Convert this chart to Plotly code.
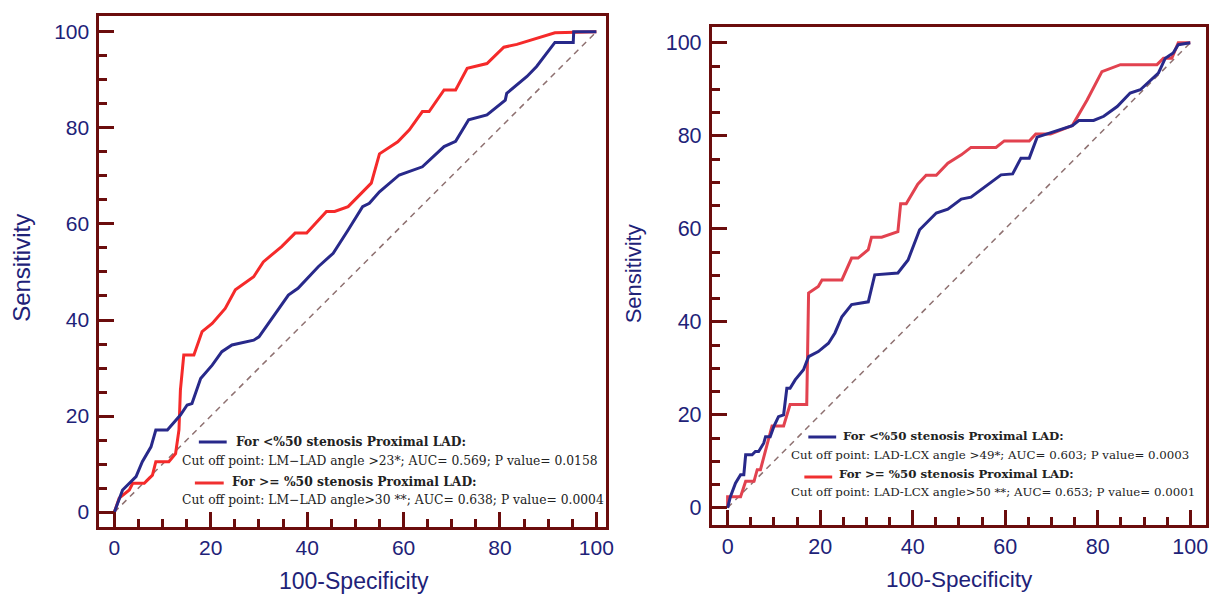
import plotly.graph_objects as go

W, H = 1218, 594

# ---------------- data ----------------
# Left panel: LM-LAD angle
left_lt50_x = [0, 1.7, 4.5, 5.8, 7.6, 8.6, 11, 13.7, 15.1, 16.1, 17.9, 20.3, 22.3, 24.4, 28.9, 30,
               36.1, 38.1, 42.3, 45.4, 48.5, 51.5, 52.9, 55, 59.1, 63.9, 68.4, 70.8, 73.5, 77.3,
               81.1, 81.4, 85.6, 87.6, 91.4, 95.2, 95.3, 100]
left_lt50_y = [0, 4.6, 7.4, 10.5, 13.6, 17.1, 17.1, 20.2, 22.3, 22.6, 27.8, 30.6, 33.4, 34.8, 35.8, 36.5,
               45.2, 46.6, 51.1, 53.9, 58.75, 63.6, 64.3, 66.7, 70.2, 71.9, 76.1, 77.2, 81.7, 82.7,
               85.8, 87.2, 90.7, 92.8, 97.8, 97.8, 100, 100]

left_ge50_x = [0, 1, 3.1, 3.8, 6.2, 7.9, 8.6, 11.3, 12.7, 13.4, 13.7, 14.4, 16.5, 18.2, 20.3, 23, 25.1,
               28.9, 30.9, 34.7, 37.5, 39.9, 44, 45.7, 48.5, 50.9, 53.3, 55, 58.8, 61.2, 63.9, 65.3,
               68.4, 70.8, 73.2, 77.3, 80.8, 83.5, 91.4, 100]
left_ge50_y = [0, 2.9, 4.6, 6, 6, 7.7, 10.5, 10.5, 12.2, 17.1, 25.4, 32.7, 32.7, 37.6, 39.3, 42.4, 46.3,
               49, 52.1, 55.3, 58.1, 58.1, 62.6, 62.6, 63.6, 66, 68.5, 74.6, 77.1, 79.6, 83.4, 83.4,
               87.9, 87.9, 92.4, 93.4, 96.8, 97.4, 99.8, 100]

# Right panel: LAD-LCX angle
right_lt50_x = [0, 0.6, 1.7, 2.8, 3.5, 3.9, 5.3, 6, 6.7, 7.8, 8.2, 9.2, 10, 11, 12.1, 12.8, 13.5, 14.6,
                16.4, 17.5, 19.6, 21.8, 23.2, 24.7, 26.8, 30.4, 31.8, 36.8, 39, 41.5, 45.1, 47.6, 50.5,
                52.6, 59.1, 61.6, 63.4, 65.2, 66.9, 70.5, 74.5, 75.9, 79.1, 81.3, 84.2, 87, 89.2, 93.1,
                94.6, 96.3, 97.4, 100]
right_lt50_y = [0, 2.4, 5.3, 7.1, 7.1, 11.4, 11.4, 12.1, 12.1, 13.9, 15.3, 15.3, 17.5, 19.6, 20, 25.7,
                25.7, 27.5, 29.7, 32.5, 33.6, 35.4, 37.6, 41.1, 43.7, 44.3, 50.1, 50.5, 53.3, 59.8, 63.4,
                64.2, 66.4, 66.8, 71.6, 71.8, 75.2, 75.2, 79.7, 80.9, 82.2, 83.3, 83.3, 84.2, 86.3, 89.2,
                89.9, 93.5, 96.7, 97.8, 99.6, 100]

right_ge50_x = [0, 0, 2.8, 3.9, 5.7, 6.4, 7.1, 7.8, 8.5, 9.6, 12.1, 13.5, 17.1, 17.4, 17.5, 19.6, 20.4,
                24.7, 26.8, 28.2, 30.4, 31.1, 33.3, 36.8, 37.4, 38.6, 41.1, 42.9, 45.1, 47.6, 50.5, 52.6,
                58, 59.8, 65.2, 66.6, 69.8, 74.5, 77.7, 80.9, 84.9, 92.8, 94.2, 96, 97.4, 100]
right_ge50_y = [0, 2.4, 2.4, 5.7, 5.7, 8.2, 8.2, 10.7, 13.2, 17.6, 17.6, 22.2, 22.2, 39.7, 46.2, 47.6, 49,
                49, 53.7, 53.7, 55.5, 58.2, 58.2, 59.4, 65.4, 65.4, 69.6, 71.5, 71.5, 74.1, 75.9, 77.5,
                77.5, 78.9, 78.9, 80.4, 80.4, 82.2, 87.7, 93.8, 95.3, 95.3, 96.7, 96.7, 100, 100]

ref_line = [0, 100]
tick_vals = [0, 20, 40, 60, 80, 100]

left_legend = [
    "<b>For <%50 stenosis Proximal LAD:</b>",
    "Cut off point: LM\u2212LAD angle >23*; AUC= 0.569; P value= 0.0158",
    "<b>For >= %50 stenosis Proximal LAD:</b>",
    "Cut off point: LM\u2212LAD angle>30 **; AUC= 0.638; P value= 0.0004",
]
right_legend = [
    "<b>For <%50 stenosis Proximal LAD:</b>",
    "Cut off point: LAD-LCX angle >49*; AUC= 0.603; P value= 0.0003",
    "<b>For >= %50 stenosis Proximal LAD:</b>",
    "Cut off point: LAD-LCX angle>50 **; AUC= 0.653; P value= 0.0001",
]

# ---------------- styles ----------------
MAROON = "#6b0d0d"
NAVY = "#1e2278"
BLUE = "#28298a"
RED_L = "#f52a2a"
RED_R = "#e2424f"
LEG_RED = "#f03030"
DIAG = "#8e7070"
TXT = "#222222"


def px(x):
    return x / W


def py(y):
    return 1 - y / H


fig = go.Figure()

for xa, ya, bx, by, rx, ry, rc in [
    ("x", "y", left_lt50_x, left_lt50_y, left_ge50_x, left_ge50_y, RED_L),
    ("x2", "y2", right_lt50_x, right_lt50_y, right_ge50_x, right_ge50_y, RED_R),
]:
    fig.add_trace(go.Scatter(x=ref_line, y=ref_line, mode="lines", xaxis=xa, yaxis=ya,
                             line=dict(color=DIAG, width=1.5, dash="6px,5px")))
    fig.add_trace(go.Scatter(x=rx, y=ry, mode="lines", xaxis=xa, yaxis=ya,
                             line=dict(color=rc, width=3)))
    fig.add_trace(go.Scatter(x=bx, y=by, mode="lines", xaxis=xa, yaxis=ya,
                             line=dict(color=BLUE, width=3)))


def axis_style(font_size):
    return dict(
        showline=True, linecolor=MAROON, linewidth=3, mirror=True,
        ticks="inside", ticklen=15, tickwidth=2.5, tickcolor=MAROON,
        tickvals=tick_vals,
        minor=dict(ticks="inside", ticklen=8, tickwidth=2.5, tickcolor=MAROON, dtick=5, tick0=0),
        showgrid=False, zeroline=False, fixedrange=True,
        tickfont=dict(family="Liberation Sans, Arial, sans-serif", size=font_size, color=NAVY),
    )


fig.update_layout(
    width=W, height=H, autosize=False,
    margin=dict(l=0, r=0, t=0, b=0),
    paper_bgcolor="white", plot_bgcolor="white",
    showlegend=False,
    xaxis=dict(domain=[px(100), px(610)], range=[-3.1, 102.1], anchor="y", **axis_style(21)),
    yaxis=dict(domain=[py(527), py(16)], range=[-3.1, 103.3], anchor="x",
               ticklabelstandoff=3, **axis_style(21)),
    xaxis2=dict(domain=[px(716), px(1213)], range=[-3.4, 103.4], anchor="y2", **axis_style(21.5)),
    yaxis2=dict(domain=[py(525), py(27)], range=[-3.7, 103.4], anchor="x2",
                ticklabelstandoff=3, **axis_style(21.5)),
)

annots = [
    dict(text="Sensitivity", x=px(22), y=py(268), textangle=-90, size=24),
    dict(text="100-Specificity", x=px(356), y=py(581), textangle=0, size=23),
    dict(text="Sensitivity", x=px(637), y=py(274), textangle=-90, size=22),
    dict(text="100-Specificity", x=px(965), y=py(579), textangle=0, size=22.5),
]
for a in annots:
    sz = a.pop("size")
    fig.add_annotation(xref="paper", yref="paper", showarrow=False,
                       font=dict(family="Liberation Sans, Arial, sans-serif", size=sz, color=NAVY),
                       xanchor="center", yanchor="middle", **a)


def add_legend(lines, text_x, text_y, seg, colors, size):
    f = dict(family="DejaVu Serif, serif", size=size, color=TXT)
    for t, xx, yy in zip(lines, text_x, text_y):
        fig.add_annotation(xref="paper", yref="paper", showarrow=False, font=f,
                           text=t, x=px(xx), y=py(yy), xanchor="left", yanchor="middle")
    for (x0, x1, yy), c in zip(seg, colors):
        fig.add_shape(type="line", xref="paper", yref="paper", x0=px(x0), x1=px(x1),
                      y0=py(yy), y1=py(yy), line=dict(color=c, width=3))


add_legend(left_legend, [235, 181, 231, 181], [441, 461, 481, 500],
           [(200, 228, 442), (196, 225, 483)], [BLUE, LEG_RED], 12.3)
add_legend(right_legend, [846, 794, 842, 794], [436, 455, 474, 492],
           [(813, 841, 437), (809, 837, 477)], [BLUE, LEG_RED], 11.8)

fig.write_html("out.html", config={"displayModeBar": False},
               post_script="document.body.style.margin='0';document.body.style.overflow='hidden';")
